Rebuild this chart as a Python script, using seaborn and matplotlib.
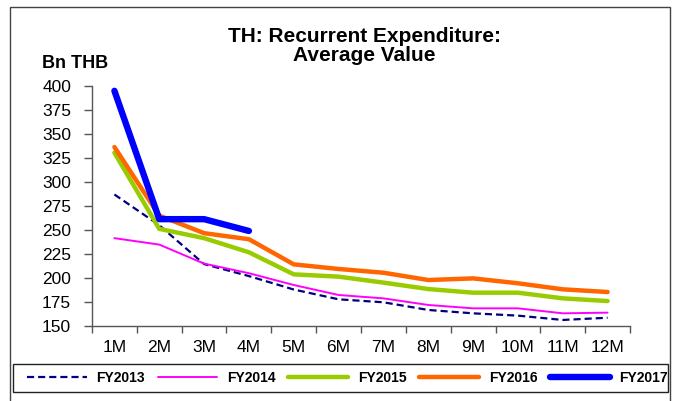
import numpy as np
import pandas as pd
import matplotlib
matplotlib.use("Agg")
import matplotlib.pyplot as plt
from matplotlib.patches import Rectangle
import seaborn as sns

# ---- data ----
months = ["1M", "2M", "3M", "4M", "5M", "6M", "7M", "8M", "9M", "10M", "11M", "12M"]
fy2013 = [287, 255, 214.5, 202, 188, 177.8, 174.7, 166.7, 163.2, 160.8, 156.3, 158.6]
fy2014 = [241.5, 234.8, 215, 205, 192.7, 182.3, 178.8, 171.9, 168.4, 168.4, 163.2, 163.9]
fy2015 = [330.5, 251.2, 241.5, 226.8, 203.8, 201.4, 195.2, 188.5, 184.7, 184.7, 178.8, 176]
fy2016 = [336.4, 265, 246.7, 240.4, 214.2, 209.4, 205.5, 197.9, 199.6, 194.5, 188.2, 185.4]
fy2017 = [395, 261.3, 261.3, 249]
y_ticks = [150, 175, 200, 225, 250, 275, 300, 325, 350, 375, 400]

sns.set_style("white")
plt.rcParams["font.family"] = ["Liberation Sans", "DejaVu Sans"]
plt.rcParams["text.color"] = "black"
plt.rcParams["xtick.color"] = "black"
plt.rcParams["ytick.color"] = "black"

fig = plt.figure(figsize=(6.73, 4.01), dpi=100)
ax = fig.add_axes([92 / 673, 1 - 326 / 401, (630 - 92) / 673, 240 / 401])

series = [
    ("FY2013", fy2013, "#000080", 1.6, (0, (3.2, 1.8))),
    ("FY2014", fy2014, "#FF00FF", 1.4, "-"),
    ("FY2015", fy2015, "#99CC00", 3.2, "-"),
    ("FY2016", fy2016, "#FF6600", 3.2, "-"),
    ("FY2017", fy2017, "#0000FF", 4.6, "-"),
]
for name, vals, col, lw, ls in series:
    x = np.arange(len(vals))
    sns.lineplot(x=x, y=vals, ax=ax, color=col, lw=lw, linestyle=ls,
                 label=name, solid_capstyle="round", dash_capstyle="butt")

ax.set_xlim(-0.5, 11.5)
ax.set_ylim(150, 400)
ax.set_yticks(y_ticks)
ax.set_xticks(np.arange(12))
ax.set_xticklabels(months)
ax.set_xticks(np.arange(-0.5, 12, 1), minor=True)
ax.tick_params(axis="x", which="major", bottom=True, length=0, pad=10, labelsize=12.5)
ax.tick_params(axis="x", which="minor", bottom=True, length=5, width=1,
               color="#555555", direction="out")
ax.tick_params(axis="y", left=True, length=6, width=1, color="#555555",
               direction="out", pad=9, labelsize=12.5, labelcolor="black")
for s in ["top", "right"]:
    ax.spines[s].set_visible(False)
for s in ["left", "bottom"]:
    ax.spines[s].set_color("#555555")
    ax.spines[s].set_linewidth(1)
ax.set_xlabel("")
ax.set_ylabel("")

fig.text(364 / 673, 1 - 46 / 401, "TH: Recurrent Expenditure:\nAverage Value",
         ha="center", va="center", fontsize=15, fontweight="bold", linespacing=1.05)
fig.text(42 / 673, 1 - 64 / 401, "Bn THB", ha="left", va="center",
         fontsize=13, fontweight="bold")

# legend box drawn separately, entries spread inside it
fig.patches.append(Rectangle((13 / 673, 1 - 392 / 401), (668 - 13) / 673, 28 / 401,
                             transform=fig.transFigure, fill=False,
                             edgecolor="#222222", lw=1))
handles, labels = ax.get_legend_handles_labels()
ax.legend_.remove()
leg = fig.legend(handles, labels, loc="center", ncol=5, mode="expand",
                 bbox_to_anchor=(27 / 673, 1 - 392 / 401, (668 - 27) / 673, 28 / 401),
                 bbox_transform=fig.transFigure, frameon=False,
                 handlelength=4.3, handletextpad=0.7,
                 columnspacing=0.8, borderaxespad=0, borderpad=0,
                 prop={"weight": "bold", "size": 10})

# outer frame of the chart
fig.patches.append(Rectangle((10 / 673, -0.02), (670 - 10) / 673, 1 - 7 / 401 + 0.02,
                             transform=fig.transFigure, fill=False,
                             edgecolor="#444444", lw=1))

fig.savefig("out.png", dpi=100)
